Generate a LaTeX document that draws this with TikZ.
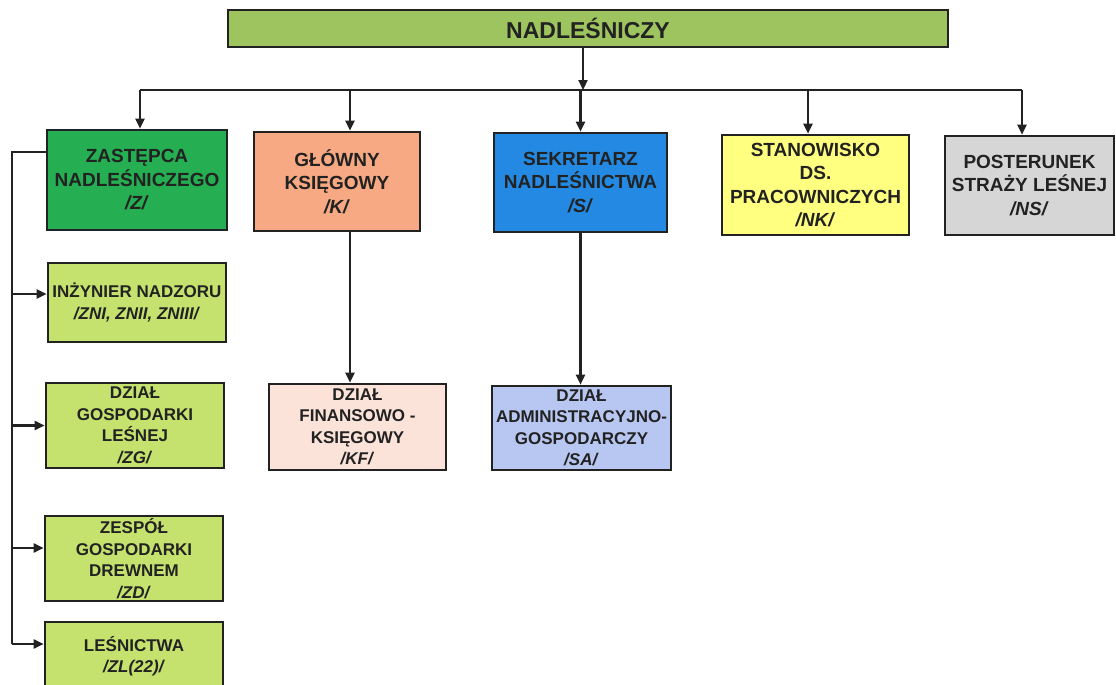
\documentclass[tikz,border=0pt]{standalone}
\usepackage{fontspec}
\setmainfont{Liberation Sans}
\usetikzlibrary{arrows.meta}
\definecolor{cTop}{HTML}{9DC45F}
\definecolor{cZ}{HTML}{25AE52}
\definecolor{cSub}{HTML}{C6E26E}
\definecolor{cK}{HTML}{F7A983}
\definecolor{cKF}{HTML}{FBE3DA}
\definecolor{cS}{HTML}{2489E2}
\definecolor{cSA}{HTML}{B7C7F2}
\definecolor{cNK}{HTML}{FFFF80}
\definecolor{cNS}{HTML}{D6D6D6}
\definecolor{cLine}{HTML}{222222}
\begin{document}
\begin{tikzpicture}[x=1pt,y=-1pt,
  box/.style={draw=cLine, line width=2.6pt, align=center, inner sep=0pt,
    font=\bfseries\fontsize{19}{23.5}\selectfont, text=cLine},
  sub/.style={box, font=\bfseries\fontsize{17}{21.5}\selectfont},
  conn/.style={line width=2.2pt, draw=cLine},
  arr/.style={conn, -{Triangle[length=10pt,width=9pt]}}]
\useasboundingbox (0,0) rectangle (1116,685);
\fill[white] (0,0) rectangle (1116,685);

\node[box, fill=cTop, minimum width=720pt, minimum height=37pt,
  font=\bfseries\fontsize{23}{26}\selectfont] (n) at (588,28.5) {NADLEŚNICZY};

\node[box, fill=cZ, minimum width=180pt, minimum height=100pt] (z) at (137,180)
  {ZASTĘPCA\\NADLEŚNICZEGO\\\textit{/Z/}};
\node[box, fill=cK, minimum width=166pt, minimum height=99pt] (k) at (337,181.5)
  {GŁÓWNY\\KSIĘGOWY\\\textit{/K/}};
\node[box, fill=cS, minimum width=173pt, minimum height=99pt] (s) at (580.5,182.5)
  {SEKRETARZ\\NADLEŚNICTWA\\\textit{/S/}};
\node[box, fill=cNK, minimum width=187pt, minimum height=100pt] (nk) at (815.5,185)
  {STANOWISKO\\DS.\\PRACOWNICZYCH\\\textit{/NK/}};
\node[box, fill=cNS, minimum width=169pt, minimum height=99pt] (ns) at (1029.5,185.5)
  {POSTERUNEK\\STRAŻY LEŚNEJ\\\textit{/NS/}};

\node[sub, fill=cSub, minimum width=178pt, minimum height=79pt] (i) at (137,302.5)
  {INŻYNIER NADZORU\\\textit{/ZNI, ZNII, ZNIII/}};
\node[sub, fill=cSub, minimum width=178pt, minimum height=85pt] (dg) at (135,425.5)
  {DZIAŁ\\GOSPODARKI\\LEŚNEJ\\\textit{/ZG/}};
\node[sub, fill=cSub, minimum width=178pt, minimum height=85pt] (zd) at (134,558.5)
  {ZESPÓŁ\\GOSPODARKI\\DREWNEM\\\textit{/ZD/}};
\node[sub, fill=cSub, minimum width=178pt, minimum height=68pt] (l) at (134,656)
  {LEŚNICTWA\\\textit{/ZL(22)/}};
\node[sub, fill=cKF, minimum width=177pt, minimum height=86pt] (df) at (357.5,427)
  {DZIAŁ\\FINANSOWO -\\KSIĘGOWY\\\textit{/KF/}};
\node[sub, fill=cSA, minimum width=179pt, minimum height=84pt] (sa) at (581.5,428)
  {DZIAŁ\\ADMINISTRACYJNO-\\GOSPODARCZY\\\textit{/SA/}};

% top connectors
\coordinate (bar) at (583,90);
\coordinate (nb) at ([xshift=-5pt]n.south);
\coordinate (zt) at ([xshift=3pt]z.north);
\coordinate (kt) at ([xshift=13pt]k.north);
\coordinate (kb) at ([xshift=13pt]k.south);
\coordinate (nkt) at ([xshift=-7.5pt]nk.north);
\coordinate (nst) at ([xshift=-7.5pt]ns.north);
\draw[arr] (nb) -- (nb |- bar);
\draw[conn] (zt |- bar) -- (nst |- bar);
\draw[arr] (zt |- bar) -- (zt);
\draw[arr] (kt |- bar) -- (kt);
\draw[arr] (s.north |- bar) -- (s.north);
\draw[arr] (nkt |- bar) -- (nkt);
\draw[arr] (nst |- bar) -- (nst);

% vertical chains
\draw[arr] (kb) -- (kb |- df.north);
\draw[arr] (s.south) -- (s.south |- sa.north);

% left spine
\coordinate (sp) at (12,152);
\coordinate (zw) at ([yshift=28pt]z.west);
\coordinate (iw) at ([yshift=8.5pt]i.west);
\coordinate (zdw) at ([yshift=10.5pt]zd.west);
\coordinate (lw) at ([yshift=12pt]l.west);
\draw[conn] (zw) -- (sp |- zw) -- (sp |- lw);
\draw[arr] (sp |- iw) -- (iw);
\draw[arr] (sp |- dg.west) -- (dg.west);
\draw[arr] (sp |- zdw) -- (zdw);
\draw[arr] (sp |- lw) -- (lw);
\end{tikzpicture}
\end{document}
